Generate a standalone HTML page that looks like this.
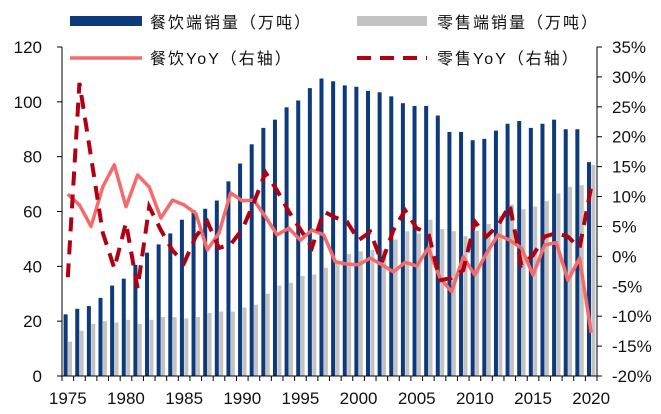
<!DOCTYPE html>
<html><head><meta charset="utf-8"><style>
body{margin:0;background:#fff;}
svg{display:block;font-family:"Liberation Sans","Noto Sans CJK SC",sans-serif;}
</style></head><body>
<svg id="chart" width="661" height="414" viewBox="0 0 661 414" xmlns="http://www.w3.org/2000/svg">
<g id="legend">
 <g><rect x="70" y="16" width="72" height="10" fill="#0d3a7a"/><text x="150" y="28" font-size="16" letter-spacing="2" fill="#111">餐饮端销量（万吨）</text></g>
 <g><rect x="357" y="16" width="70" height="10" fill="#c3c3c3"/><text x="437" y="28" font-size="16" letter-spacing="2" fill="#111">零售端销量（万吨）</text></g>
 <g><line x1="70" y1="58" x2="142" y2="58" stroke="#f56a6a" stroke-width="3.5"/><text x="150" y="64" font-size="16" letter-spacing="2" fill="#111">餐饮YoY（右轴）</text></g>
 <g><line x1="357" y1="58" x2="427" y2="58" stroke="#b00012" stroke-width="4" stroke-dasharray="14,9"/><text x="437" y="64" font-size="16" letter-spacing="2" fill="#111">零售YoY（右轴）</text></g>
</g>
<g id="bars"></g>
<g id="lines"></g>
<g id="axes"></g>
</svg>
<script>
const years = [];
for (let y = 1975; y <= 2020; y++) years.push(y);
const restaurantVolume = [22.5,24.5,25.5,28.5,33,35.5,40.5,45,48,52,57,60.5,61,64,71,77.5,84.5,90.5,93.5,98,100.5,105,108.5,107.5,106,105.5,104,103.5,102,99.5,98.5,98.5,95,89,89,86,86.5,89.5,92,93,90.5,92,93.5,90,90,78];
const retailVolume = [12.5,16.5,19,20,19.5,20.5,19,20.5,21.5,21.5,21,21.5,23,23.5,23.5,25,26,30,33,34,36.5,37,39.5,41,44.5,45.5,46,46,49.8,52.8,52,57,53.6,52.8,51,53,55.5,58.5,62.5,60.8,61.8,63.8,66.6,69,69.6,77];
const restaurantYoY = [10.4,8.6,5,11.6,15.3,8.3,13.6,11.6,6.4,9.4,8.6,7.2,1.1,3.9,10.6,9.3,9.4,6.6,3.6,4.7,2.7,4.4,3.6,-0.9,-1.3,-1.4,-0.3,-1.4,-2.6,-1,-1.6,1.4,-3.6,-5.9,-0.1,-3.1,0.5,3.6,2.7,1.4,-3.1,1.9,2.3,-4,-0.3,-12.8];
const retailYoY = [-3.5,29,16.6,4,-2,5.6,-5.3,8.3,4.4,1,-1.1,3.3,5.8,1.4,2,4.5,9,14,11,7.5,4.5,1.5,7.5,6.5,5.8,2.7,4.1,-1,4.4,7.7,4.7,3.9,-4,-3.6,-2.3,5.8,3.3,5.2,8.6,-1.5,0.2,3.3,3.9,3.3,1.4,11.6];
const leftTicks = [0,20,40,60,80,100,120];
const rightTicks = [-20,-15,-10,-5,0,5,10,15,20,25,30,35];
const xLabelYears = [1975,1980,1985,1990,1995,2000,2005,2010,2015,2020];

const NS = "http://www.w3.org/2000/svg";
const X0 = 62, X1 = 597, TOP = 47, BOT = 376;
const band = (X1 - X0) / years.length;
const xc = i => X0 + band * (i + 0.5);
const yL = v => BOT - (v / 120) * (BOT - TOP);
const yR = v => BOT - ((v + 20) / 55) * (BOT - TOP);
function mk(tag, attrs, parent) { const e = document.createElementNS(NS, tag); for (const k in attrs) e.setAttribute(k, attrs[k]); parent.appendChild(e); return e; }

const bars = document.getElementById('bars');
years.forEach((yr, i) => {
  const r1 = mk('rect', {x: xc(i) - 4.2, y: yL(restaurantVolume[i]), width: 4, height: BOT - yL(restaurantVolume[i]), fill: '#0d3a7a'}, bars);
  
  
  const r2 = mk('rect', {x: xc(i) + 0.2, y: yL(retailVolume[i]), width: 4, height: BOT - yL(retailVolume[i]), fill: '#c3c3c3'}, bars);
  
  
});

const lines = document.getElementById('lines');
const p1 = mk('polyline', {points: restaurantYoY.map((v, i) => xc(i) + ',' + yR(v)).join(' '), fill: 'none', stroke: '#f56a6a', 'stroke-width': 3.5, 'stroke-linejoin': 'round'}, lines);


const p2 = mk('polyline', {points: retailYoY.map((v, i) => xc(i) + ',' + yR(v)).join(' '), fill: 'none', stroke: '#b00012', 'stroke-width': 4, 'stroke-dasharray': '14,9'}, lines);



const axes = document.getElementById('axes');
const la = mk('line', {x1: X0, y1: TOP, x2: X0, y2: BOT, stroke: '#000', 'stroke-width': 1}, axes);


const ra = mk('line', {x1: X1, y1: TOP, x2: X1, y2: BOT, stroke: '#000', 'stroke-width': 1}, axes);


const xa = mk('line', {x1: X0 - 5, y1: BOT, x2: X1, y2: BOT, stroke: '#000', 'stroke-width': 1}, axes);


leftTicks.forEach(v => {
  mk('line', {x1: X0 - 5, y1: yL(v), x2: X0, y2: yL(v), stroke: '#000'}, axes);
  const t = mk('text', {x: 42, y: yL(v) + 6, 'text-anchor': 'end', 'font-size': 17, fill: '#111'}, axes);
  t.textContent = v;
  
  
});
rightTicks.forEach(v => {
  mk('line', {x1: X1, y1: yR(v), x2: X1 + 5, y2: yR(v), stroke: '#000'}, axes);
  const t = mk('text', {x: 612, y: yR(v) + 6, 'font-size': 17, fill: '#111'}, axes);
  t.textContent = v + '%';
  
  
});
for (let i = 0; i <= years.length; i++) mk('line', {x1: X0 + band * i, y1: BOT, x2: X0 + band * i, y2: BOT + 5, stroke: '#000'}, axes);
xLabelYears.forEach(yr => {
  const i = years.indexOf(yr);
  const t = mk('text', {x: xc(i), y: 404, 'text-anchor': 'middle', 'font-size': 17, fill: '#111'}, axes);
  t.textContent = yr;
  
  
});
</script>
</body></html>
